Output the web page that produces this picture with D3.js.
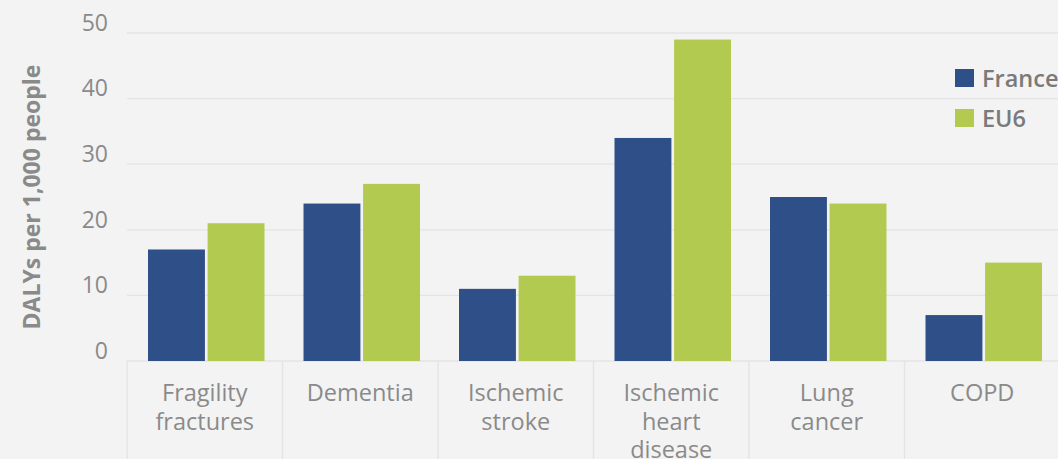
<!DOCTYPE html>
<html><head><meta charset="utf-8">
<script src="https://cdn.jsdelivr.net/npm/d3@7"></script>
<style>
html,body{margin:0;padding:0;background:#f3f3f3;}
svg{display:block;font-family:"Open Sans",sans-serif;}
</style></head><body>
<svg id="c" width="1058" height="459"></svg>
<script>
const categories = [["Fragility","fractures"],["Dementia"],["Ischemic","stroke"],["Ischemic","heart","disease"],["Lung","cancer"],["COPD"]];
const seriesNames = ["France","EU6"];
const france = [17,24,11,34,25,7];
const eu6 = [21,27,13,49,24,15];
const yTicks = [0,10,20,30,40,50];
const colors = ["#2e4f87","#b3ca50"];

(function(){
const svg = d3.select("#c");
const W=1058,H=459;
const mLeft=127,mRight=1060,mTop=33,mBottom=361;
const x = d3.scaleBand().domain(d3.range(categories.length)).range([mLeft,mRight]).paddingInner(0).paddingOuter(0);
const y = d3.scaleLinear().domain([0,50]).range([mBottom,mTop]);
const xs = d3.scaleBand().domain(seriesNames).range([21,x.bandwidth()-18]).paddingInner(0.045);

svg.append("rect").attr("width",W).attr("height",H).attr("fill","#f3f3f3");

// gridlines
svg.append("g").selectAll("line").data(yTicks).join("line")
 .attr("x1",mLeft).attr("x2",W).attr("y1",d=>y(d)).attr("y2",d=>y(d))
 .attr("stroke","#e4e4e4").attr("stroke-width",1.3);

// category separators below axis
svg.append("g").selectAll("line").data(d3.range(categories.length+1)).join("line")
 .attr("x1",d=>mLeft+d*x.bandwidth()).attr("x2",d=>mLeft+d*x.bandwidth())
 .attr("y1",mBottom).attr("y2",H).attr("stroke","#e4e4e4").attr("stroke-width",1.3);

// y axis labels
const yAxis = d3.axisLeft(y).tickValues(yTicks).tickSize(0).tickPadding(0);
const ga = svg.append("g").attr("transform",`translate(108,0)`).call(yAxis);
ga.select(".domain").remove();
ga.selectAll("text").attr("font-size",23).attr("fill","#8a8a8a").attr("dy","-0.12em").attr("font-family","Open Sans");

// y title
svg.append("text").attr("transform","translate(40,197) rotate(-90)").attr("text-anchor","middle")
 .attr("font-size",23).attr("font-weight",700).attr("fill","#8a8a8a").text("DALYs per 1,000 people");

// bars
const data = categories.map((c,i)=>({i,vals:[france[i],eu6[i]]}));
const g = svg.append("g").selectAll("g").data(data).join("g").attr("transform",d=>`translate(${x(d.i)},0)`);
g.selectAll("rect").data(d=>d.vals.map((v,k)=>({k,v}))).join("rect")
 .attr("x",d=>xs(seriesNames[d.k])).attr("width",xs.bandwidth())
 .attr("y",d=>y(d.v)).attr("height",d=>y(0)-y(d.v)).attr("fill",d=>colors[d.k]);

// category labels
const cl = svg.append("g").selectAll("text").data(categories).join("text")
 .attr("x",(d,i)=>x(i)+x.bandwidth()/2).attr("y",401).attr("text-anchor","middle")
 .attr("font-size",23.5).attr("fill","#8a8a8a");
cl.selectAll("tspan").data(d=>d).join("tspan").attr("x",function(){return this.parentNode.getAttribute("x");})
 .attr("dy",(d,j)=>j===0?0:28.5).text(d=>d);

// legend
const lg = svg.append("g").selectAll("g").data(seriesNames).join("g").attr("transform",(d,i)=>`translate(955,${69+i*40})`);
lg.append("rect").attr("width",19).attr("height",18).attr("fill",(d,i)=>colors[i]);
lg.append("text").attr("x",27).attr("y",18).attr("font-size",23.5).attr("font-weight",600).attr("fill","#7a7a7a").text(d=>d);
})();
</script></body></html>
